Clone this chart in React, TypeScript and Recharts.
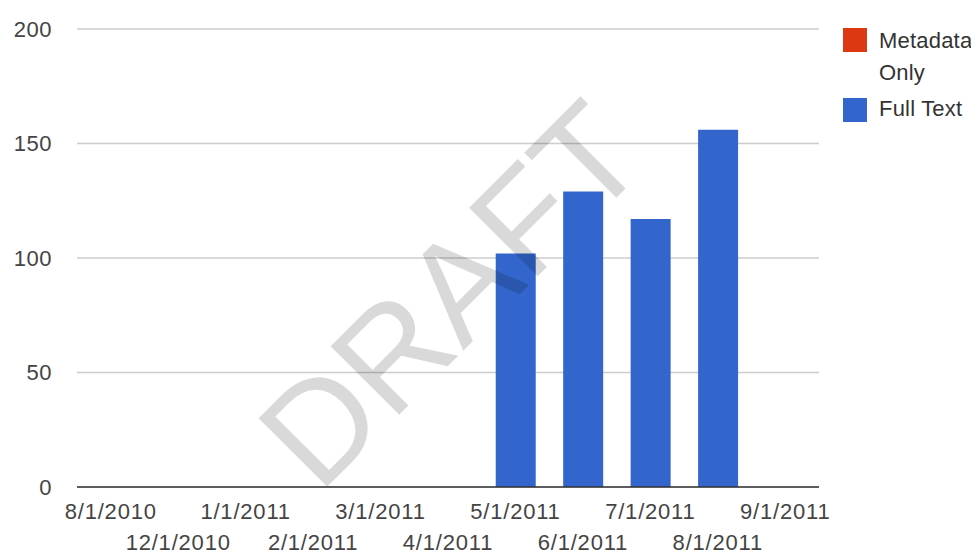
import React from 'react';
import { BarChart, Bar, XAxis, YAxis, CartesianGrid } from 'recharts';

const categories = ['8/1/2010', '12/1/2010', '1/1/2011', '2/1/2011', '3/1/2011', '4/1/2011', '5/1/2011', '6/1/2011', '7/1/2011', '8/1/2011', '9/1/2011'];
const metadataOnly = [0, 0, 0, 0, 0, 0, 0, 0, 0, 0, 0];
const fullText = [0, 0, 0, 0, 0, 0, 102, 129, 117, 156, 0];
const yTicks = [0, 50, 100, 150, 200];
const seriesNames = ['Metadata Only', 'Full Text'];
const seriesColors = ['#dc3912', '#3366cc'];
const watermark = 'DRAFT';

const data = categories.map((c, i) => ({ date: c, meta: metadataOnly[i], full: fullText[i] }));

const FONT = '"Liberation Sans", Arial, sans-serif';
const TEXT = '#444444';

const XTick = (props: any) => {
  const { x, y, payload } = props;
  const idx = categories.indexOf(payload.value);
  const dy = idx % 2 === 0 ? 24 : 55;
  return (
    <text x={x} y={y + dy} textAnchor="middle" dominantBaseline="central" fontSize={22} fontFamily={FONT} fill={TEXT} letterSpacing={0.8}>
      {payload.value}
    </text>
  );
};

export default function App() {
  return (
    <div style={{ position: 'relative', width: 971, height: 545, fontFamily: FONT }}>
      <BarChart width={971} height={545} data={data} margin={{ top: 21, right: 160, bottom: 6, left: 0 }} style={{ overflow: 'visible' }}>
        <CartesianGrid vertical={false} stroke="#cccccc" strokeWidth={1.5} />
        <XAxis dataKey="date" interval={0} tick={<XTick />} tickLine={false} tickSize={0} tickMargin={0} height={60} axisLine={{ stroke: '#333333', strokeWidth: 1.5 }} />
        <YAxis domain={[0, 200]} ticks={yTicks} width={69} axisLine={false} tickLine={false} tickSize={0} tickMargin={25} tick={{ fontSize: 22, fill: TEXT, fontFamily: FONT, letterSpacing: 0.5 }} />
        <Bar dataKey="meta" name={seriesNames[0]} stackId="a" fill={seriesColors[0]} barSize={40} isAnimationActive={false} />
        <Bar dataKey="full" name={seriesNames[1]} stackId="a" fill={seriesColors[1]} barSize={40} isAnimationActive={false} />
      </BarChart>
      <svg width={971} height={545} style={{ position: 'absolute', left: 0, top: 0, pointerEvents: 'none' }}>
        <text x={311} y={487} transform="rotate(-45 311 487)" fontSize={141} fontFamily={FONT} fill="#000000" fillOpacity={0.15}>
          {watermark}
        </text>
      </svg>
      <div style={{ position: 'absolute', left: 835, top: 20.3, width: 24, height: 24, background: seriesColors[0] }} />
      <div style={{ position: 'absolute', left: 871, top: 17.4, width: 100, fontSize: 22, lineHeight: '32px', color: '#333', letterSpacing: 0.2 }}>
        {seriesNames[0]}
      </div>
      <div style={{ position: 'absolute', left: 835, top: 89.7, width: 24, height: 24, background: seriesColors[1] }} />
      <div style={{ position: 'absolute', left: 871, top: 85.4, width: 100, fontSize: 22, lineHeight: '32px', color: '#333', letterSpacing: 0.2, whiteSpace: 'nowrap' }}>
        {seriesNames[1]}
      </div>
    </div>
  );
}
